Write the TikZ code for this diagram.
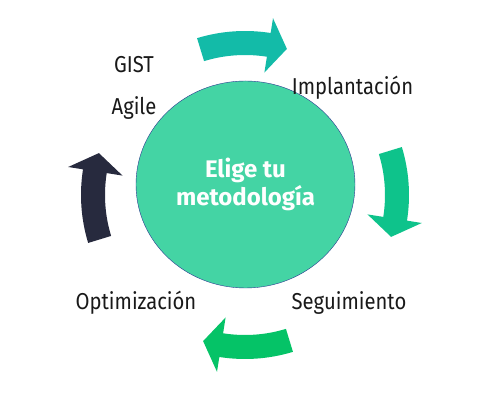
\documentclass[tikz,border=0pt]{standalone}
\usepackage{fontspec}
\setmainfont{Fira Sans}
\newfontfamily\stagefont[FakeStretch=0.88]{Fira Sans}
\usetikzlibrary{shapes,positioning}
\definecolor{mint}{HTML}{44D4A4}
\definecolor{rimblue}{HTML}{2B3990}
\definecolor{tealarrow}{HTML}{13BBA8}
\definecolor{jadearrow}{HTML}{0EC38B}
\definecolor{greenarrow}{HTML}{05C367}
\definecolor{navyarrow}{HTML}{272A3E}
\tikzstyle{hub} = [draw=rimblue, fill=mint, ellipse, minimum width=219pt,
minimum height=207pt, inner sep=0pt, text=white, align=center,
font=\fontsize{24}{28}\selectfont\bfseries]
\tikzstyle{stage} = [font=\stagefont\fontsize{23}{27}\selectfont, text=black!90, anchor=base]
% curved block arrow: tail angle, colour
\newcommand{\cyclearrow}[2]{%
\fill[#2] (#1:164pt) arc[start angle=#1, delta angle=-26, radius=164pt]
-- (#1-26:179pt) -- (#1-33:152pt) -- (#1-26:124pt) -- (#1-26:140pt)
arc[start angle=#1-26, delta angle=26, radius=140pt] -- cycle;}

\begin{document}
\begin{tikzpicture}[x=1pt, y=1pt]
\useasboundingbox (0,0) rectangle (501,401);

% We start by placing the circle in the middle
\node [hub] (method) at (245.5,216.5) {Elige tu\\metodología};

% The four arrows turn round the circle
\begin{scope}[shift={(245,206)}]
\cyclearrow{107}{tealarrow}
\cyclearrow{17}{jadearrow}
\cyclearrow{-73}{greenarrow}
\cyclearrow{-163}{navyarrow}
\end{scope}

% Then the stages
\node [stage] (agile) at (134,286) {Agile};
\node [stage, above=42pt of agile.base, anchor=base] (gist) {GIST};
\node [stage] (implant) at (352.5,306) {Implantación};
\node [stage] (optim) at (136,91) {Optimización};
\node [stage, right=213pt of optim.base, anchor=base] (follow) {Seguimiento};
\end{tikzpicture}
\end{document}
